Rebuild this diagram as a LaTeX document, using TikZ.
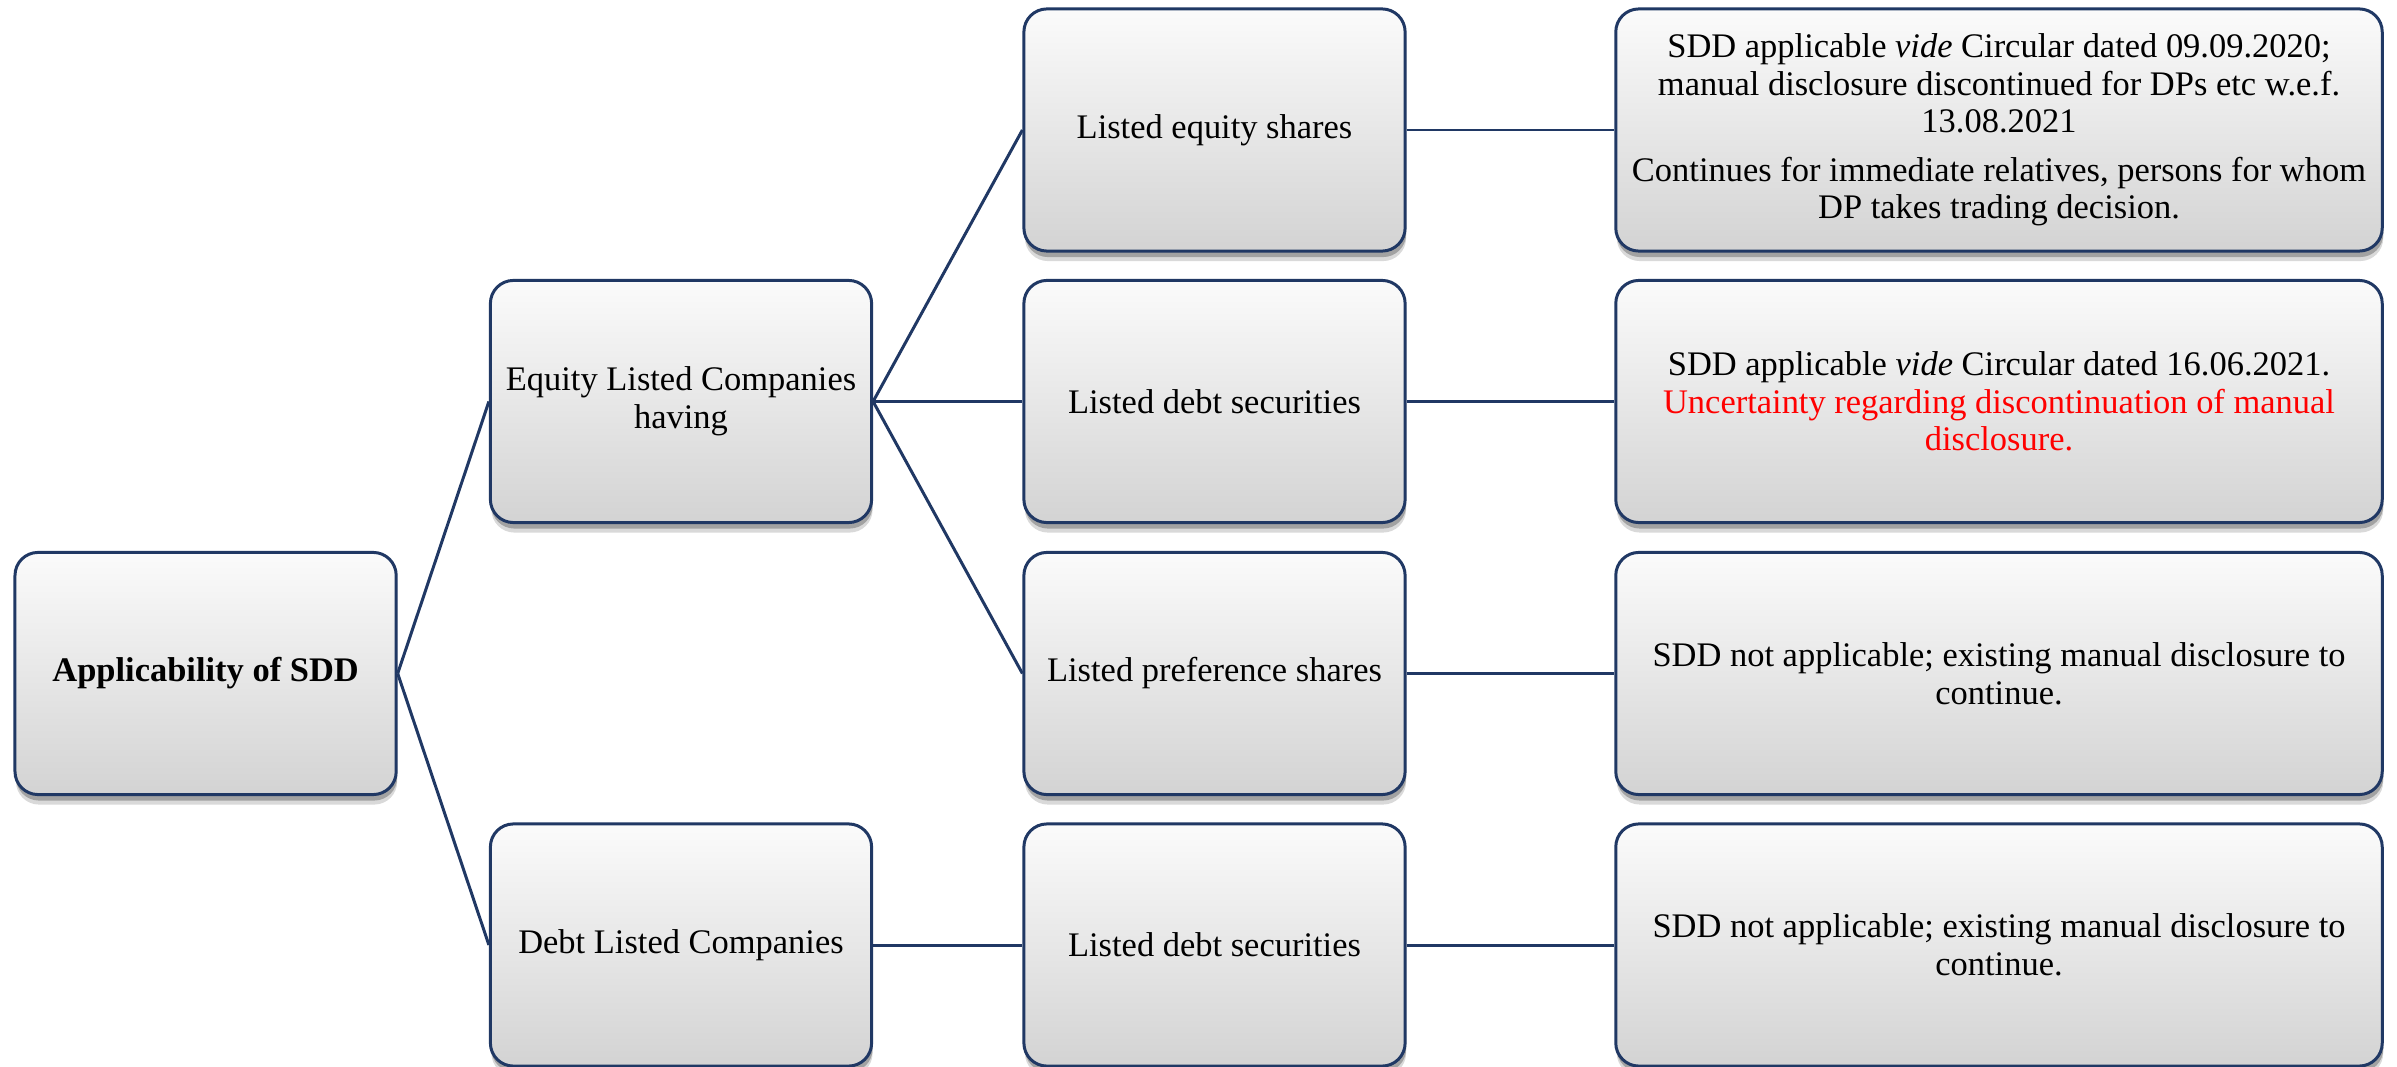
\documentclass[tikz,border=0pt]{standalone}
\usepackage{fontspec}
\setmainfont{Liberation Serif}
\usetikzlibrary{shadows}
\definecolor{navy}{HTML}{203864}
\definecolor{boxtop}{HTML}{FBFBFB}
\definecolor{boxbot}{HTML}{D3D3D3}

\begin{document}
\begin{tikzpicture}[x=0.01cm,y=-0.01cm,
  card/.style={rectangle, rounded corners=0.23cm, draw=navy, line width=0.85pt,
    top color=boxtop, bottom color=boxbot, minimum height=2.42cm, inner sep=0pt,
    align=center, font=\fontsize{9.8}{10.7}\selectfont,
    drop shadow={shadow xshift=0.01cm, shadow yshift=-0.10cm, opacity=0.15, fill=black},
    drop shadow={shadow xshift=0.01cm, shadow yshift=-0.06cm, opacity=0.25, fill=black}},
  narrow/.style={card, minimum width=3.81cm},
  wide/.style={card, minimum width=7.66cm},
  link/.style={draw=navy, line width=0.85pt}]

\useasboundingbox[fill=white] (0,0) rectangle (2397,1067);

% level 0
\node[narrow] (root) at (205.6,673.5) {\textbf{Applicability of SDD}};

% level 1
\node[narrow] (eq)   at (681,401.5) {Equity Listed Companies\\having};
\node[narrow] (debt) at (681,945)   {Debt Listed Companies};

% level 2
\node[narrow] (eqsh)  at (1214.5,130)   {Listed equity shares};
\node[narrow] (eqdb)  at (1214.5,401.5) {Listed debt securities};
\node[narrow] (eqpr)  at (1214.5,673.5) {Listed preference shares};
\node[narrow] (dbdb)  at (1214.5,945)   {Listed debt securities};

% level 3
\node[wide] (n1) at (1999,130) {SDD applicable \textit{vide} Circular dated 09.09.2020;\\
  manual disclosure discontinued for DPs etc w.e.f.\\
  13.08.2021\\[3pt]
  Continues for immediate relatives, persons for whom\\
  DP takes trading decision.};
\node[wide] (n2) at (1999,401.5) {SDD applicable \textit{vide} Circular dated 16.06.2021.\\
  \textcolor{red}{Uncertainty regarding discontinuation of manual}\\
  \textcolor{red}{disclosure.}};
\node[wide] (n3) at (1999,673.5) {SDD not applicable; existing manual disclosure to\\continue.};
\node[wide] (n4) at (1999,945)   {SDD not applicable; existing manual disclosure to\\continue.};

% connectors
\draw[link] (root.east) -- (eq.west);
\draw[link] (root.east) -- (debt.west);
\draw[link] (eq.east) -- (eqsh.west);
\draw[link] (eq.east) -- (eqdb.west);
\draw[link] (eq.east) -- (eqpr.west);
\draw[link] (debt.east) -- (dbdb.west);
\draw[link] (eqsh.east) -- (n1.west);
\draw[link] (eqdb.east) -- (n2.west);
\draw[link] (eqpr.east) -- (n3.west);
\draw[link] (dbdb.east) -- (n4.west);
\end{tikzpicture}
\end{document}
